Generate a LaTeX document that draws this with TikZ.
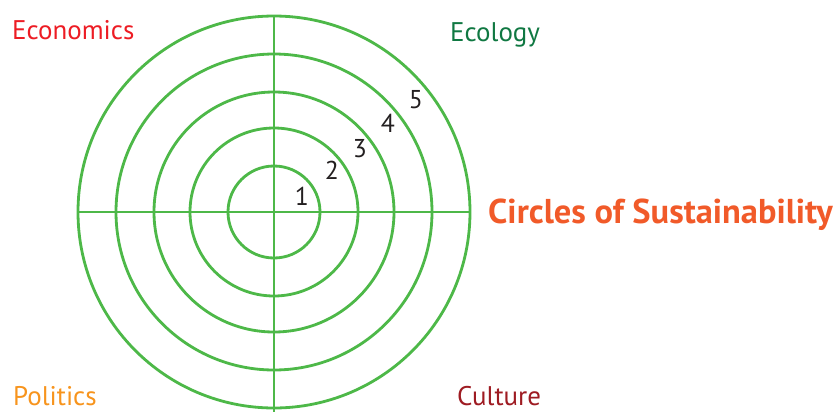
\documentclass[tikz,border=0pt]{standalone}
\usepackage{fontspec}
\setmainfont{PT Sans}
\usepackage{tikz}
\usetikzlibrary{positioning}
\definecolor{ringgreen}{RGB}{77,184,72}
\definecolor{econred}{RGB}{237,28,36}
\definecolor{ecogreen}{RGB}{16,120,66}
\definecolor{polorange}{RGB}{247,148,29}
\definecolor{cultred}{RGB}{158,27,34}
\definecolor{titleorange}{RGB}{241,90,41}
\definecolor{numgray}{RGB}{35,31,32}

\begin{document}
\begin{tikzpicture}[x=0.03cm, y=-0.03cm,
    ring/.style={draw=ringgreen, line width=2.4pt},
    pillar/.style={anchor=base west, inner sep=0pt, font=\fontsize{23}{23}\selectfont},
    ringnum/.style={anchor=base, inner sep=0pt, text=numgray, font=\fontsize{22}{22}\selectfont}]
    \useasboundingbox (0,0) rectangle (838,412);

    % Rings
    \coordinate (centre) at (274,212);
    \foreach \r in {46,84,120,158,196} {
        \draw[ring] (centre) circle[radius=\r];
    }
    \draw[ring] (78,212) -- (470,212);
    \draw[ring] (274,16) -- (274,412);

    % Ring numbers
    \node[ringnum] (n1) at (302,205) {1};
    \node[ringnum] (n2) at (332,179) {2};
    \node[ringnum] (n3) at (360,157) {3};
    \node[ringnum] (n4) at (388,132) {4};
    \node[ringnum] (n5) at (416,108) {5};

    % Domains
    \node[pillar, text=econred] (economics) at (12,39) {Economics};
    \node[pillar, text=ecogreen] (ecology) at (450,41) {Ecology};
    \node[pillar, text=polorange] (politics) at (13,405) {Politics};
    \node[pillar, text=cultred] (culture) at (457,405) {Culture};

    % Title
    \node[anchor=base west, inner sep=0pt, text=titleorange,
          font=\bfseries\fontsize{29.4}{30}\selectfont] (title) at (488,223) {Circles of Sustainability};
\end{tikzpicture}
\end{document}
